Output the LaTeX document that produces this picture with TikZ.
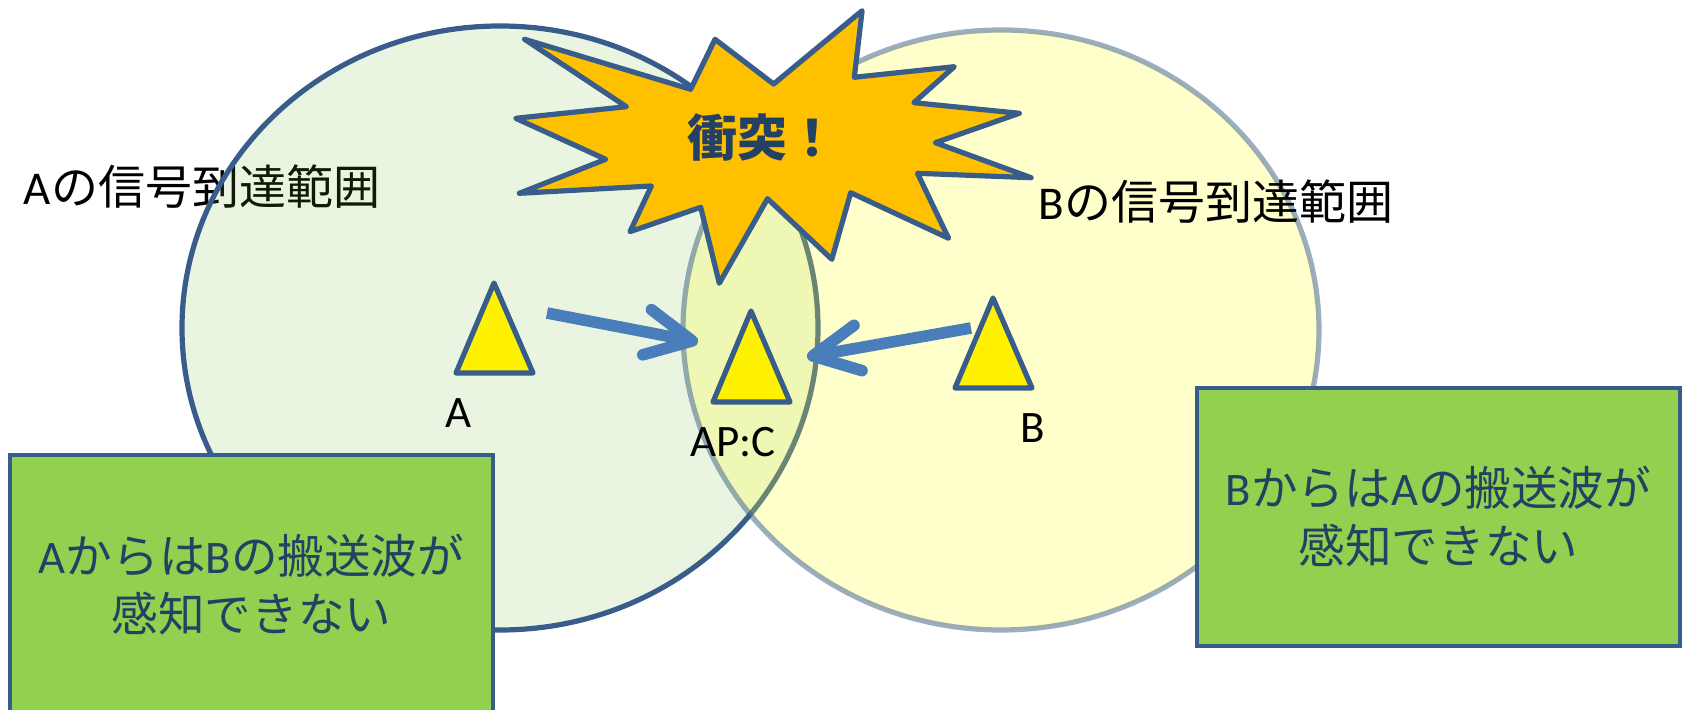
\documentclass[tikz,border=0pt]{standalone}
\usepackage{fontspec}
\setmainfont{Carlito}
\newfontfamily\jp{Noto Sans CJK JP}
\usetikzlibrary{arrows.meta}
\definecolor{edge}{RGB}{56,93,138}
\definecolor{shaft}{RGB}{74,126,187}
\definecolor{navy}{RGB}{36,64,98}
\definecolor{rangegreen}{RGB}{110,185,45}
\definecolor{rangeyellow}{RGB}{255,255,51}
\definecolor{burst}{RGB}{255,192,0}
\definecolor{notegreen}{RGB}{146,208,80}

\begin{document}
\begin{tikzpicture}[x=.5pt, y=-.5pt,
  big/.style={font=\fontsize{23.5}{28}\selectfont, inner sep=0pt},
  lbl/.style={font=\fontsize{22.5}{27}\selectfont, inner sep=0pt},
  tri/.style={draw=edge, fill=yellow, line width=2.6pt, line join=round},
  sig/.style={draw=shaft, line width=5.8pt, -{Straight Barb[length=23pt,width=23pt,round]}},
  note/.style={draw=edge, fill=notegreen, line width=2.4pt, text=navy, align=center,
    minimum width=241.5pt, inner sep=0pt, font=\fontsize{23.3}{29}\selectfont}]
\useasboundingbox (0,0) rectangle (1682,710);

% ranges
\node[big] (rangeA) at (202,187) {A\jp の信号到達範囲};
\draw[edge, line width=2.6pt, fill=rangegreen, fill opacity=.15] (500,328) ellipse [x radius=159pt, y radius=151pt];
\draw[draw=edge, draw opacity=.5, line width=2.6pt, fill=rangeyellow, fill opacity=.25] (1001,330) ellipse [x radius=159pt, y radius=150pt];
\node[big] (rangeB) at (1216,202) {B\jp の信号到達範囲};

% collision
\draw[draw=edge, fill=burst, line width=2.6pt, line join=round] (524.6,39.3) -- (690.7,89.3) -- (715,39.3) -- (773.6,84)
  -- (862.1,10.7) -- (854.3,77.3) -- (954.3,66.7) -- (913.9,102.7) -- (1019.3,113.3) -- (935.4,142.7)
  -- (1031.1,177.7) -- (917.5,173.3) -- (948.6,238.3) -- (850.7,192.7) -- (831.8,259.3) -- (767.5,198.7)
  -- (719.3,283.3) -- (700.7,207.3) -- (630,231.7) -- (651.4,186) -- (519.3,193.3) -- (605.7,159.3)
  -- (515.7,118.3) -- (626.4,106.7) -- cycle;
\node[text=navy, font=\fontsize{25}{29}\selectfont\jp\bfseries] (boom) at (762,138) {衝突！};

% stations
\draw[tri] (494,283) -- (456,373) -- (533,373) -- cycle;
\draw[tri] (751,311) -- (713,402) -- (790,402) -- cycle;
\draw[tri] (993,298) -- (955,388) -- (1032,388) -- cycle;
\node[lbl] (labA) at (459,413) {A};
\node[lbl] (labC) at (733,442) {AP:C};
\node[lbl] (labB) at (1033,428) {B};

% carriers
\coordinate (fromA) at (547,313);
\coordinate (toCa) at (698,342);
\coordinate (fromB) at (971,328);
\coordinate (toCb) at (807,357);
\draw[sig] (fromA) -- (toCa);
\draw[sig] (fromB) -- (toCb);

% notes
\node[note, minimum height=130pt] (noteA) at (251.5,585) {A{\jp からは}B{\jp の搬送波が}\\{\jp 感知できない}};
\node[note, minimum height=129pt] (noteB) at (1438.5,517) {B{\jp からは}A{\jp の搬送波が}\\{\jp 感知できない}};
\end{tikzpicture}
\end{document}
